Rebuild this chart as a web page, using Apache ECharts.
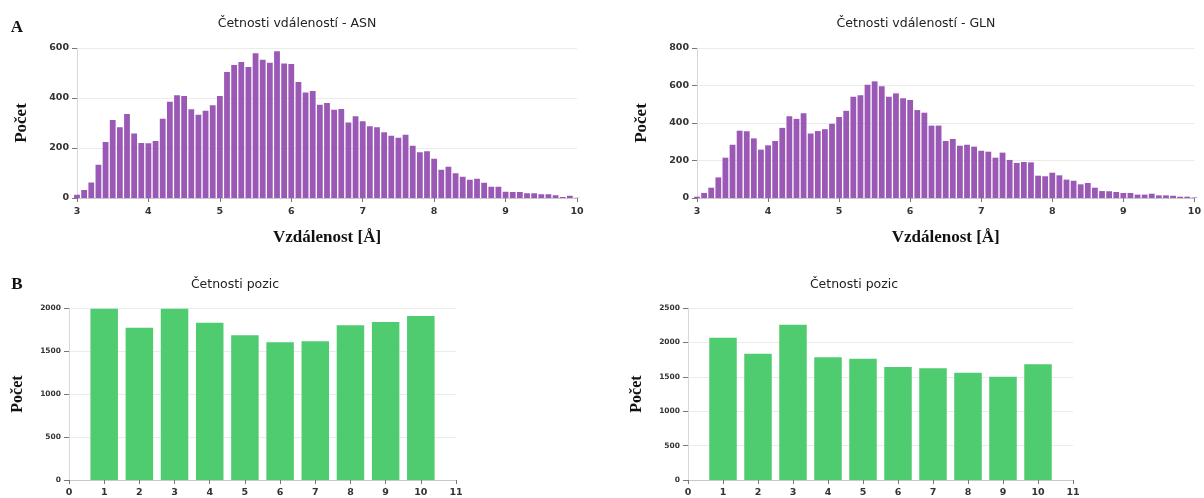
<!DOCTYPE html>
<html>
<head>
<meta charset="utf-8">
<script src="https://cdn.jsdelivr.net/npm/echarts/dist/echarts.min.js"></script>
<style>
  html, body { margin: 0; padding: 0; background: #fff; }
  #chart { width: 1204px; height: 498px; }
</style>
</head>
<body>
<div id="chart"></div>
<script>
// Histogram bin centres, distance in Å
const binCenters = [
  3.0, 3.1, 3.2, 3.3, 3.4, 3.5, 3.6, 3.7, 3.8, 3.9,
  4.0, 4.1, 4.2, 4.3, 4.4, 4.5, 4.6, 4.7, 4.8, 4.9,
  5.0, 5.1, 5.2, 5.3, 5.4, 5.5, 5.6, 5.7, 5.8, 5.9,
  6.0, 6.1, 6.2, 6.3, 6.4, 6.5, 6.6, 6.7, 6.8, 6.9,
  7.0, 7.1, 7.2, 7.3, 7.4, 7.5, 7.6, 7.7, 7.8, 7.9,
  8.0, 8.1, 8.2, 8.3, 8.4, 8.5, 8.6, 8.7, 8.8, 8.9,
  9.0, 9.1, 9.2, 9.3, 9.4, 9.5, 9.6, 9.7, 9.8, 9.9,
  10.0
];

// Distance counts – ASN
const asnCounts = [
  13, 32, 62, 133, 224, 312, 283, 336, 258, 220,
  219, 228, 317, 385, 411, 408, 355, 333, 349, 371,
  408, 504, 532, 544, 524, 579, 553, 541, 587, 538,
  536, 464, 422, 428, 373, 380, 353, 356, 302, 327,
  307, 287, 283, 263, 249, 241, 253, 209, 183, 187,
  157, 113, 125, 99, 85, 73, 77, 61, 45, 45,
  25, 24, 24, 19, 19, 15, 15, 11, 4, 9,
  1
];

// Distance counts – GLN
const glnCounts = [
  7, 27, 55, 110, 215, 284, 359, 356, 318, 258,
  281, 304, 374, 436, 422, 452, 344, 357, 367, 396,
  432, 465, 540, 548, 604, 622, 596, 540, 558, 532,
  523, 469, 455, 386, 386, 304, 315, 279, 284, 274,
  252, 247, 215, 242, 203, 187, 192, 190, 119, 116,
  135, 121, 98, 92, 73, 80, 55, 37, 36, 32,
  27, 27, 18, 18, 23, 14, 14, 12, 7, 7,
  3
];

// Position frequencies
const positions = [1, 2, 3, 4, 5, 6, 7, 8, 9, 10];
const asnPositionCounts = [1990, 1771, 1992, 1829, 1682, 1601, 1612, 1798, 1837, 1907];
const glnPositionCounts = [2069, 1836, 2258, 1783, 1764, 1643, 1623, 1560, 1502, 1681];

const PURPLE = '#9b59b6';
const GREEN = '#4fcb70';
const LABEL = '#333';
const SANS = 'DejaVu Sans';
const SERIF = 'Liberation Serif';

function pairs(xs, ys) { return xs.map((x, i) => [x, ys[i]]); }
const plain = v => String(v);

function xAxisCfg(gridIndex, min, max, fontSize, margin, name) {
  return {
    type: 'value', gridIndex, min, max, interval: 1,
    name: name || '', nameLocation: 'middle', nameGap: 31,
    nameTextStyle: { fontFamily: SERIF, fontWeight: 'bold', fontSize: 17, color: '#111' },
    axisLine: { show: true, onZero: false, lineStyle: { color: '#c8c8c8', width: 1 } },
    axisTick: { show: true, length: 4, lineStyle: { color: '#777' } },
    axisLabel: { color: LABEL, fontFamily: SANS, fontWeight: 'bold', fontSize, margin, formatter: plain },
    splitLine: { show: false }
  };
}

function yAxisCfg(gridIndex, max, interval, fontSize, nameSize, nameGap) {
  return {
    type: 'value', gridIndex, min: 0, max, interval,
    name: 'Počet', nameLocation: 'middle', nameGap,
    nameTextStyle: { fontFamily: SERIF, fontWeight: 'bold', fontSize: nameSize, color: '#111' },
    axisLine: { show: true, lineStyle: { color: '#d8d8d8', width: 1 } },
    axisTick: { show: true, length: 5, lineStyle: { color: '#777' } },
    axisLabel: { color: LABEL, fontFamily: SANS, fontWeight: 'bold', fontSize, margin: 8, formatter: plain },
    splitLine: { show: true, lineStyle: { color: '#ebebeb', width: 1 } }
  };
}

function heading(text, x, y, size) {
  return {
    type: 'text', x, y, silent: true,
    style: { text, fill: '#222', font: size + 'px "' + SANS + '"', align: 'center', verticalAlign: 'middle' }
  };
}

function panelLetter(text, x, y) {
  return {
    type: 'text', x, y, silent: true,
    style: { text, fill: '#111', font: 'bold 17px "' + SERIF + '"', align: 'center', verticalAlign: 'middle' }
  };
}

const chart = echarts.init(document.getElementById('chart'), null, { renderer: 'canvas' });

chart.setOption({
  backgroundColor: '#fff',
  animation: false,
  grid: [
    { left: 77, top: 48, width: 500, height: 150 },
    { left: 697, top: 48, width: 498, height: 150 },
    { left: 69, top: 308, width: 387, height: 172 },
    { left: 688, top: 308, width: 385, height: 172 }
  ],
  xAxis: [
    xAxisCfg(0, 3, 10, 9.5, 9, 'Vzdálenost [Å]'),
    xAxisCfg(1, 3, 10, 9.5, 9, 'Vzdálenost [Å]'),
    xAxisCfg(2, 0, 11, 9.5, 8),
    xAxisCfg(3, 0, 11, 9.5, 8)
  ],
  yAxis: [
    yAxisCfg(0, 600, 200, 9.5, 17, 47),
    yAxisCfg(1, 800, 200, 9.5, 17, 47),
    yAxisCfg(2, 2000, 500, 7.5, 16, 43),
    yAxisCfg(3, 2500, 500, 7.5, 16, 43)
  ],
  series: [
    { type: 'bar', xAxisIndex: 0, yAxisIndex: 0, data: pairs(binCenters, asnCounts),
      barWidth: 5.8, clip: true, itemStyle: { color: PURPLE } },
    { type: 'bar', xAxisIndex: 1, yAxisIndex: 1, data: pairs(binCenters, glnCounts),
      barWidth: 5.8, clip: true, itemStyle: { color: PURPLE } },
    { type: 'bar', xAxisIndex: 2, yAxisIndex: 2, data: pairs(positions, asnPositionCounts),
      barWidth: 27.5, itemStyle: { color: GREEN } },
    { type: 'bar', xAxisIndex: 3, yAxisIndex: 3, data: pairs(positions, glnPositionCounts),
      barWidth: 27.5, itemStyle: { color: GREEN } }
  ],
  graphic: [
    panelLetter('A', 17, 28),
    panelLetter('B', 17, 285),
    heading('Četnosti vdáleností - ASN', 297, 24, 12.5),
    heading('Četnosti vdáleností - GLN', 916, 24, 12.5),
    heading('Četnosti pozic', 235, 285, 12.5),
    heading('Četnosti pozic', 854, 285, 12.5)
  ]
});
</script>
</body>
</html>
